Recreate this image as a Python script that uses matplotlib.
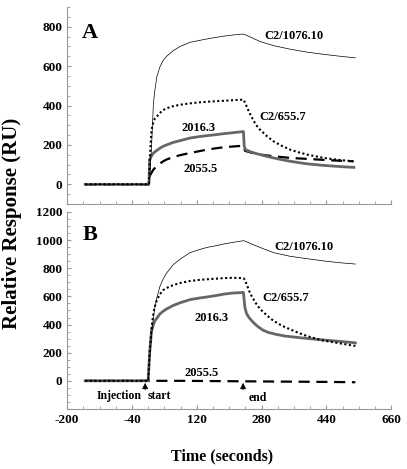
import numpy as np
import matplotlib
matplotlib.use("Agg")
import matplotlib.pyplot as plt
from matplotlib.ticker import MultipleLocator, FixedLocator

plt.rcParams['font.family'] = ['Liberation Serif', 'DejaVu Serif']
plt.rcParams['font.weight'] = 'bold'

# x tick labels as printed on the original (evenly spaced along the axis)
xtick_labels = ['-200', '-40', '120', '280', '440', '660']

# ---- panel A ----
tA_1076 = [-152, 17, 20, 24, 29, 33, 38, 46, 55, 64, 82, 100, 126, 150, 171, 195, 215, 240, 266,
           272, 312, 348, 392, 437, 481, 525, 565]
vA_1076 = [0, 0, 60, 193, 411, 480, 545, 595, 629, 650, 679, 700, 721, 730, 738, 746, 752, 758, 763,
           760, 725, 704, 686, 671, 660, 650, 642]

tA_655 = [-152, 17, 20, 24, 29, 33, 38, 46, 55, 64, 82, 100, 126, 150, 171, 195, 215, 240, 268,
          272, 280, 286, 300, 312, 330, 348, 370, 392, 415, 437, 460, 481, 520, 560]
vA_655 = [0, 0, 150, 277, 315, 335, 344, 362, 377, 386, 397, 404, 411, 416, 419, 422, 424, 427, 430,
          415, 380, 355, 305, 277, 245, 218, 195, 176, 162, 151, 142, 134, 124, 117]

tA_2016 = [-152, 17, 19, 24, 29, 38, 46, 55, 64, 82, 100, 126, 150, 171, 195, 215, 240, 268,
           270, 274, 290, 304, 330, 348, 370, 392, 419, 437, 481, 525, 561]
vA_2016 = [0, 0, 126, 145, 159, 172, 183, 193, 200, 213, 222, 235, 242, 247, 252, 257, 262, 268,
           193, 175, 163, 155, 142, 134, 125, 117, 109, 104, 96, 90, 86]

tA_2055 = [-152, 17, 20, 24, 29, 38, 46, 55, 64, 82, 100, 126, 150, 171, 195, 215, 240, 268,
           272, 290, 312, 350, 392, 437, 481, 520, 560]
vA_2055 = [0, 0, 45, 59, 75, 92, 105, 117, 126, 139, 148, 159, 168, 176, 183, 188, 192, 196,
           170, 160, 151, 142, 134, 129, 124, 120, 117]

# ---- panel B ----
tB_1076 = [-152, 15, 19, 24, 29, 33, 38, 46, 55, 64, 82, 100, 126, 150, 171, 195, 215, 240, 268,
           272, 290, 312, 348, 392, 437, 481, 525, 565]
vB_1076 = [0, 0, 150, 330, 450, 524, 590, 669, 725, 766, 827, 865, 911, 932, 948, 960, 972, 984, 996,
           993, 972, 948, 911, 885, 868, 852, 839, 830]

tB_655 = [-152, 15, 19, 24, 29, 33, 38, 46, 55, 64, 82, 100, 126, 150, 171, 195, 215, 240, 268,
          272, 286, 300, 312, 330, 348, 370, 392, 415, 437, 460, 481, 525, 565]
vB_655 = [0, 0, 200, 378, 480, 530, 572, 615, 645, 660, 681, 695, 710, 717, 722, 726, 730, 732, 730,
          717, 620, 555, 511, 465, 426, 392, 366, 340, 318, 300, 286, 266, 248]

tB_2016 = [-152, 15, 19, 24, 29, 33, 38, 46, 55, 64, 82, 100, 126, 150, 171, 195, 215, 240, 268,
           270, 272, 276, 282, 290, 300, 308, 320, 334, 355, 379, 423, 481, 525, 565]
vB_2016 = [0, 0, 200, 354, 400, 426, 445, 475, 495, 511, 536, 555, 577, 588, 596, 606, 616, 624, 628,
           570, 520, 480, 452, 427, 400, 382, 360, 344, 330, 318, 305, 290, 280, 270]

tB_2055 = [-152, 15, 100, 200, 300, 400, 500, 565]
vB_2055 = [0, 0, 0, -2, -4, -6, -8, -10]

inj_start = 7
inj_end = 267

fig = plt.figure(figsize=(4.07, 4.69), dpi=100)
axA = fig.add_axes([0.165, 0.565, 0.796, 0.42])
axB = fig.add_axes([0.165, 0.128, 0.796, 0.42])

grey = '#999999'


def series(ax, t1076, v1076, t655, v655, t2016, v2016, t2055, v2055):
    ax.plot(t2055, v2055, color='black', lw=1.6, ls=(0, (5, 3)))
    ax.plot(t2016, v2016, color='#666666', lw=2.0)
    ax.plot(t655, v655, color='black', lw=1.5, ls=(0, (1, 1.2)))
    ax.plot(t1076, v1076, color='black', lw=0.5)


def style(ax, ylo, yhi, ystep):
    ax.set_xlim(-200, 660)
    ax.set_ylim(ylo, yhi)
    ax.xaxis.set_major_locator(FixedLocator(np.linspace(-200, 660, 6)))
    ax.xaxis.set_minor_locator(FixedLocator(np.linspace(-200, 660, 21)))
    ax.set_xticklabels(xtick_labels)
    ax.yaxis.set_minor_locator(MultipleLocator(ystep / 4))
    ax.set_yticks(np.arange(0, yhi + 1, ystep))
    for s in ['top', 'right']:
        ax.spines[s].set_visible(False)
    for s in ['left', 'bottom']:
        ax.spines[s].set_color(grey)
        ax.spines[s].set_linewidth(0.8)
    ax.tick_params(which='both', direction='in', color=grey, labelsize=9.5)
    ax.tick_params(which='major', length=3)
    ax.tick_params(which='minor', length=2)


series(axA, tA_1076, vA_1076, tA_655, vA_655, tA_2016, vA_2016, tA_2055, vA_2055)
style(axA, -100, 900, 200)
axA.tick_params(axis='x', labelbottom=False)
axA.text(-140, 770, 'A', fontsize=16, fontweight='bold', ha='center', va='center')
axA.text(401, 755, 'C2/1076.10', fontsize=9, ha='center', va='center')
axA.text(371, 343, 'C2/655.7', fontsize=9, ha='center', va='center')
axA.text(148, 286, '2016.3', fontsize=9, ha='center', va='center')
axA.text(153, 80, '2055.5', fontsize=9, ha='center', va='center')

series(axB, tB_1076, vB_1076, tB_655, vB_655, tB_2016, vB_2016, tB_2055, vB_2055)
style(axB, -200, 1200, 200)
axB.text(-140, 1033, 'B', fontsize=16, fontweight='bold', ha='center', va='center')
axB.text(428, 953, 'C2/1076.10', fontsize=9, ha='center', va='center')
axB.text(380, 589, 'C2/655.7', fontsize=9, ha='center', va='center')
axB.text(184, 444, '2016.3', fontsize=9, ha='center', va='center')
axB.text(157, 58, '2055.5', fontsize=9, ha='center', va='center')

for x in [inj_start, inj_end]:
    axB.annotate('', xy=(x, 5), xytext=(x, -85),
                 arrowprops=dict(arrowstyle='-|>,head_length=0.35,head_width=0.18',
                                 color='black', lw=0.6))
axB.text(-2, -109, 'Injection', fontsize=8.5, ha='right', va='center')
axB.text(14, -109, 'start', fontsize=8.5, ha='left', va='center')
axB.text(305, -124, 'end', fontsize=8.5, ha='center', va='center')

fig.text(0.03, 0.5245, 'Relative Response (RU)', rotation=90, fontsize=15,
         fontweight='bold', ha='center', va='center')
fig.text(0.545, 0.026, 'Time (seconds)', fontsize=11.5, fontweight='bold',
         ha='center', va='center')

fig.savefig('out.png', dpi=100)
